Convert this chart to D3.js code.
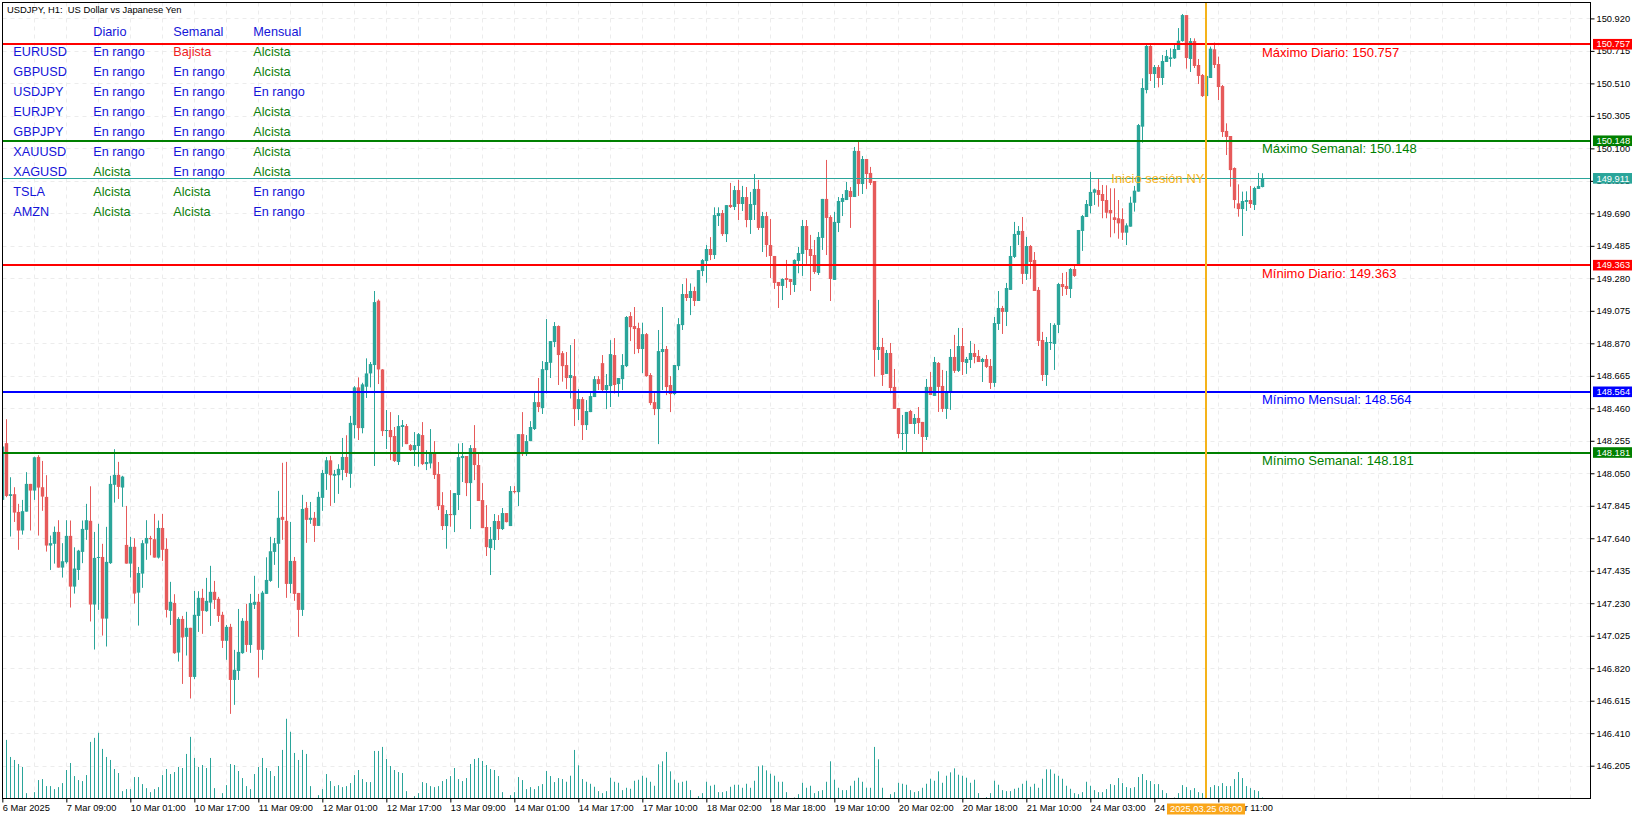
<!DOCTYPE html>
<html>
<head>
<meta charset="utf-8">
<title>USDJPY H1</title>
<script src="https://cdn.jsdelivr.net/npm/d3@7"></script>
<style>
  html, body { margin: 0; padding: 0; background: #fff; }
  svg { display: block; font-family: "Liberation Sans", Arial, sans-serif; }
</style>
</head>
<body>
<svg id="chart" width="1643" height="819"></svg>
<script>
// Candles, bar 0 = 6 Mar 2025 17:00, one bar per hour
var highs = [
148.240,148.391,148.025,147.962,147.857,147.882,148.057,147.983,148.155,148.164,
148.128,148.038,147.657,147.714,147.754,147.609,147.754,147.752,147.583,147.567,
147.752,147.857,147.968,147.680,147.731,147.605,147.712,148.034,148.202,148.122,
148.034,147.844,147.649,147.640,147.459,147.628,147.754,147.655,147.794,147.752,
147.794,147.640,147.365,147.287,147.142,147.150,147.176,147.075,147.308,147.306,
147.321,147.390,147.466,147.371,147.270,147.176,147.093,147.100,146.936,147.194,
147.136,147.226,147.289,147.403,147.289,147.308,147.520,147.649,147.642,147.939,
148.116,148.122,147.743,147.522,147.295,147.914,147.869,147.869,147.806,147.933,
148.071,148.153,148.160,148.071,148.107,148.273,148.290,148.412,148.600,148.655,
148.621,148.775,148.752,149.200,149.147,148.707,148.449,148.436,148.342,148.417,
148.386,148.361,148.234,148.310,148.304,148.373,148.196,148.329,148.253,148.121,
147.931,147.818,147.944,147.925,148.238,148.241,148.159,148.228,148.354,148.184,
147.988,147.849,147.711,147.793,147.786,147.831,147.799,147.969,147.969,148.297,
148.436,148.291,148.379,148.556,148.651,148.758,149.023,148.884,149.004,148.983,
148.821,148.815,148.859,148.897,148.581,148.531,148.512,148.556,148.663,148.663,
148.796,148.676,148.890,148.903,148.651,148.802,149.042,149.067,149.099,149.000,
149.000,148.935,148.682,148.556,148.954,149.099,148.853,148.663,148.733,149.029,
149.244,149.280,149.248,149.227,149.332,149.402,149.490,149.540,149.728,149.728,
149.711,149.742,149.882,149.863,149.901,149.863,149.856,149.825,149.938,149.901,
149.699,149.699,149.654,149.421,149.257,149.280,149.396,149.276,149.400,149.478,
149.648,149.648,149.554,149.522,149.572,149.781,150.027,149.678,149.699,149.793,
149.812,149.888,149.856,150.109,150.147,150.052,150.033,149.983,149.894,149.144,
148.904,148.828,148.872,148.708,148.462,148.418,148.437,148.450,148.424,148.468,
148.374,148.645,148.689,148.784,148.752,148.702,148.696,148.834,148.923,148.967,
148.967,148.784,148.885,148.866,148.828,148.778,148.796,148.771,149.036,149.200,
149.106,149.251,149.484,149.636,149.610,149.667,149.541,149.490,149.446,149.225,
148.942,148.910,148.998,148.996,149.251,149.314,149.320,149.345,149.358,149.585,
149.680,149.774,149.951,149.846,149.911,149.869,149.867,149.848,149.848,149.774,
149.722,149.627,149.795,149.863,150.254,150.542,150.752,150.758,150.626,150.626,
150.689,150.721,150.731,150.758,150.859,150.948,150.941,150.796,150.794,150.664,
150.569,150.569,150.742,150.767,150.679,150.500,150.258,150.178,149.980,149.873,
149.827,149.829,149.863,149.858,149.945,149.943
];
var lows = [
147.567,147.899,147.651,147.743,147.567,147.663,147.808,147.689,147.882,147.657,
147.813,147.556,147.440,147.480,147.455,147.392,147.480,147.203,147.291,147.377,
147.483,147.630,147.115,146.938,147.188,147.026,146.957,147.478,147.865,147.888,
147.838,147.480,147.392,147.228,147.089,147.327,147.504,147.533,147.518,147.512,
147.497,147.140,147.093,146.911,146.862,146.721,146.900,146.629,146.751,147.049,
147.037,147.176,147.087,147.194,147.112,146.948,146.873,146.532,146.589,146.746,
146.911,146.923,146.917,147.194,146.761,146.873,147.289,147.365,147.472,147.327,
147.630,147.264,147.293,147.245,147.018,147.150,147.611,147.731,147.617,147.718,
147.813,147.945,147.844,147.863,147.920,148.006,148.027,147.958,148.270,148.260,
148.302,148.525,148.592,148.096,148.613,148.285,148.203,148.133,148.121,148.102,
148.217,148.234,148.190,148.096,148.091,148.102,148.070,148.081,148.014,147.818,
147.692,147.574,147.713,147.679,147.818,147.995,147.906,147.698,148.007,147.875,
147.704,147.528,147.408,147.566,147.629,147.692,147.740,147.717,147.923,147.843,
148.159,148.159,148.253,148.323,148.436,148.424,148.554,148.651,148.846,148.607,
148.628,148.581,148.522,148.348,148.386,148.260,148.323,148.436,148.531,148.575,
148.562,148.455,148.468,148.554,148.533,148.575,148.720,148.884,148.802,148.808,
148.682,148.659,148.480,148.417,148.234,148.575,148.543,148.436,148.543,148.701,
148.954,149.137,149.048,149.105,149.137,149.294,149.252,149.395,149.402,149.610,
149.547,149.509,149.724,149.711,149.648,149.705,149.602,149.560,149.648,149.585,
149.446,149.415,149.282,149.213,149.093,149.143,149.219,149.175,149.194,149.312,
149.295,149.371,149.200,149.308,149.301,149.459,149.427,149.137,149.270,149.572,
149.673,149.774,149.598,149.793,149.800,149.812,149.844,149.869,148.660,148.765,
148.601,148.677,148.555,148.456,148.271,148.197,148.184,148.361,148.298,148.298,
148.184,148.260,148.544,148.538,148.437,148.437,148.393,148.450,148.683,148.689,
148.670,148.677,148.714,148.744,148.752,148.626,148.714,148.582,148.595,148.954,
148.929,148.979,149.207,149.408,149.490,149.244,149.270,149.276,149.200,148.853,
148.632,148.601,148.828,148.702,148.935,149.169,149.175,149.156,149.289,149.364,
149.453,149.667,149.690,149.743,149.732,149.659,149.659,149.539,149.564,149.530,
149.522,149.490,149.606,149.701,149.827,150.136,150.447,150.525,150.481,150.485,
150.500,150.645,150.615,150.664,150.721,150.773,150.603,150.582,150.607,150.506,
150.424,150.430,150.544,150.607,150.405,150.172,150.058,149.858,149.722,149.669,
149.547,149.705,149.724,149.711,149.844,149.854
];
var opens = [
147.882,148.240,147.907,147.918,147.806,147.689,147.808,147.983,147.941,148.153,
147.962,147.901,147.594,147.605,147.680,147.455,147.489,147.655,147.335,147.440,
147.554,147.693,147.750,147.222,147.516,147.522,147.133,147.483,147.977,148.040,
147.960,147.598,147.480,147.586,147.297,147.417,147.607,147.642,147.634,147.518,
147.705,147.573,147.182,147.232,146.919,147.131,147.018,147.075,146.765,147.150,
147.264,147.180,147.234,147.302,147.258,147.157,146.993,147.081,146.746,146.803,
146.915,147.119,146.967,147.220,147.239,146.936,147.289,147.371,147.554,147.605,
147.775,147.750,147.352,147.497,147.295,147.188,147.832,147.756,147.769,147.718,
147.895,148.046,148.132,148.034,148.038,148.071,148.153,148.046,148.354,148.592,
148.335,148.596,148.680,148.733,149.139,148.705,148.318,148.323,148.285,148.121,
148.342,148.348,148.228,148.196,148.222,148.291,148.108,148.112,148.184,148.045,
147.849,147.717,147.793,147.786,147.913,148.146,148.159,147.988,148.209,148.102,
147.881,147.711,147.578,147.629,147.749,147.698,147.799,147.717,147.938,147.931,
148.297,148.171,148.253,148.329,148.499,148.461,148.701,148.747,148.878,148.979,
148.808,148.733,148.651,148.663,148.455,148.518,148.354,148.436,148.531,148.644,
148.745,148.575,148.600,148.796,148.613,148.644,148.726,149.042,148.979,148.966,
148.834,148.928,148.670,148.499,148.455,148.815,148.834,148.607,148.550,148.726,
148.985,149.181,149.156,149.200,149.137,149.326,149.389,149.465,149.427,149.673,
149.692,149.559,149.743,149.730,149.837,149.749,149.793,149.648,149.743,149.844,
149.598,149.673,149.490,149.421,149.257,149.232,149.282,149.276,149.238,149.390,
149.434,149.610,149.465,149.427,149.314,149.535,149.781,149.667,149.270,149.629,
149.762,149.774,149.831,149.793,150.084,149.875,150.033,149.945,149.894,148.828,
148.847,148.677,148.809,148.595,148.462,148.298,148.298,148.443,148.361,148.399,
148.374,148.279,148.595,148.538,148.746,148.601,148.456,148.563,148.784,148.696,
148.853,148.746,148.765,148.809,148.790,148.752,148.771,148.727,148.620,148.992,
149.093,149.068,149.207,149.415,149.554,149.579,149.308,149.484,149.396,149.207,
148.891,148.670,148.872,148.866,148.986,149.244,149.232,149.213,149.339,149.364,
149.579,149.667,149.736,149.820,149.837,149.812,149.774,149.711,149.665,149.659,
149.654,149.568,149.606,149.757,149.827,150.237,150.468,150.746,150.569,150.613,
150.544,150.645,150.664,150.668,150.721,150.777,150.941,150.664,150.777,150.626,
150.563,150.430,150.544,150.725,150.632,150.493,150.210,150.178,149.976,149.753,
149.717,149.762,149.774,149.743,149.844,149.856
];
var closes = [
148.219,147.907,147.918,147.802,147.689,147.811,147.983,147.941,148.151,147.960,
147.903,147.594,147.609,147.680,147.455,147.495,147.655,147.335,147.449,147.562,
147.699,147.754,147.222,147.516,147.522,147.133,147.491,147.983,148.040,147.964,
148.029,147.480,147.586,147.291,147.421,147.609,147.642,147.634,147.518,147.705,
147.567,147.188,147.239,146.915,147.131,147.014,147.075,146.765,147.157,147.264,
147.182,147.245,147.302,147.251,147.150,146.993,147.081,146.746,146.810,146.923,
147.119,146.967,147.232,147.239,146.936,147.297,147.377,147.558,147.609,147.769,
147.756,147.352,147.497,147.289,147.188,147.825,147.756,147.769,147.718,147.901,
148.052,148.132,148.038,148.046,148.078,148.153,148.052,148.368,148.592,148.335,
148.611,148.680,148.739,149.130,148.705,148.316,148.323,148.278,148.127,148.348,
148.354,148.234,148.196,148.228,148.297,148.108,148.121,148.184,148.039,147.843,
147.717,147.793,147.786,147.925,148.152,148.159,147.988,148.209,148.102,147.875,
147.704,147.584,147.635,147.749,147.698,147.799,147.742,147.938,147.931,148.297,
148.171,148.253,148.342,148.499,148.468,148.707,148.752,148.884,148.979,148.796,
148.726,148.651,148.670,148.455,148.518,148.354,148.443,148.537,148.644,148.613,
148.575,148.607,148.802,148.607,148.651,148.733,149.036,148.972,148.960,148.834,
148.928,148.663,148.493,148.455,148.821,148.834,148.594,148.550,148.733,148.991,
149.181,149.156,149.200,149.137,149.332,149.395,149.465,149.427,149.679,149.692,
149.559,149.742,149.730,149.837,149.749,149.793,149.648,149.749,149.844,149.598,
149.673,149.490,149.421,149.251,149.232,149.276,149.270,149.257,149.396,149.440,
149.610,149.459,149.421,149.320,149.541,149.781,149.661,149.276,149.636,149.768,
149.787,149.837,149.793,150.084,149.875,150.033,149.938,149.882,148.828,148.847,
148.670,148.809,148.588,148.456,148.298,148.304,148.437,148.361,148.399,148.367,
148.279,148.595,148.544,148.752,148.595,148.456,148.569,148.784,148.696,148.853,
148.752,148.771,148.809,148.784,148.752,148.771,148.721,148.620,148.998,149.093,
149.068,149.219,149.421,149.560,149.579,149.308,149.484,149.383,149.200,148.885,
148.670,148.878,148.878,148.986,149.244,149.225,149.213,149.339,149.295,149.585,
149.673,149.749,149.825,149.841,149.806,149.768,149.694,149.690,149.648,149.627,
149.568,149.614,149.757,149.833,150.247,150.481,150.746,150.569,150.613,150.544,
150.651,150.683,150.674,150.727,150.779,150.941,150.670,150.777,150.620,150.557,
150.430,150.557,150.729,150.626,150.487,150.203,150.172,149.963,149.774,149.717,
149.768,149.774,149.749,149.850,149.863,149.911
];
// Tick volume per bar, in arbitrary units
var volumes = [
60,175,124,115,103,94,16,2,19,55,58,37,37,28,34,46,85,106,67,55,
52,70,169,181,196,148,124,115,88,76,22,28,28,64,64,43,31,19,28,34,
70,88,73,79,94,91,133,184,121,94,100,91,121,31,0,16,40,103,100,82,
61,37,28,73,94,121,91,82,67,97,145,238,199,136,115,145,133,37,0,10,
28,73,52,37,40,34,37,46,70,85,58,49,49,142,142,154,118,97,85,79,
76,22,0,7,16,49,46,37,34,37,52,58,67,91,58,52,61,103,118,121,
112,100,88,85,67,19,0,10,19,64,55,28,34,28,37,43,82,67,49,61,
58,50,68,145,99,58,50,44,35,22,16,22,62,50,47,25,32,29,53,56,
68,62,50,38,102,111,139,81,56,47,50,53,25,0,7,16,50,38,41,19,
19,22,35,41,41,32,44,32,53,96,99,84,74,68,50,50,19,0,3,13,
47,32,38,16,22,25,50,111,56,32,25,25,38,53,62,50,32,32,154,117,
32,0,13,19,47,44,41,25,19,22,32,44,59,53,81,47,68,78,90,71,
68,62,47,56,16,0,4,16,53,41,25,22,22,29,32,44,53,35,44,32,
59,87,87,74,68,59,38,29,16,13,19,50,38,25,19,19,28,43,40,61,
46,34,31,34,64,73,55,52,43,43,25,16,0,3,16,40,34,25,31,19,
16,40,34,40,37,46,37,37,58,79,61,37,31,25,22,3
];

var priceTicks = [150.920,150.715,150.510,150.305,150.100,149.895,149.690,149.485,149.280,149.075,148.870,148.665,
  148.460,148.255,148.050,147.845,147.640,147.435,147.230,147.025,146.820,146.615,146.410,146.205];
var timeBars = [0,16,32,48,64,80,96,112,128,144,160,176,192,208,224,240,256,272,288,304];
var timeLabels = ["6 Mar 2025","7 Mar 09:00","10 Mar 01:00","10 Mar 17:00","11 Mar 09:00","12 Mar 01:00","12 Mar 17:00",
  "13 Mar 09:00","14 Mar 01:00","14 Mar 17:00","17 Mar 10:00","18 Mar 02:00","18 Mar 18:00","19 Mar 10:00",
  "20 Mar 02:00","20 Mar 18:00","21 Mar 10:00","24 Mar 03:00","24 Mar 19:00","25 Mar 11:00"];

// Horizontal levels
var levelPrices = [150.757,150.148,149.911,149.363,148.564,148.181];
var levelNames = ["Máximo Diario: 150.757","Máximo Semanal: 150.148","","Mínimo Diario: 149.363","Mínimo Mensual: 148.564","Mínimo Semanal: 148.181"];
var levelColors = ["#ff0000","#008000","#2aa59a","#ff0000","#0000ff","#008000"];

// Table in the upper left corner
var tableHeaders = ["Diario","Semanal","Mensual"];
var tableSymbols = ["EURUSD","GBPUSD","USDJPY","EURJPY","GBPJPY","XAUUSD","XAGUSD","TSLA","AMZN"];
var tableDiario = ["En rango","En rango","En rango","En rango","En rango","En rango","Alcista","Alcista","Alcista"];
var tableSemanal = ["Bajista","En rango","En rango","En rango","En rango","En rango","En rango","Alcista","Alcista"];
var tableMensual = ["Alcista","Alcista","En rango","Alcista","Alcista","Alcista","Alcista","En rango","En rango"];

var crossBar = 301;
var crossLabel = "2025.03.25 08:00";

var UP = "#2aa59a", DOWN = "#e65a5a", CROSS = "#f5b31a";
var plotLeft = 2.5, plotRight = 1590.5, plotTop = 2.5, plotBottom = 798.5;

var svg = d3.select("#chart");
var x = d3.scaleLinear().domain([0, 315]).range([2.33, 1262.33]);
var y = d3.scaleLinear().domain([150.920, 146.205]).range([18.4, 765.7]);
var yVol = d3.scaleLinear().domain([0, 300]).range([plotBottom, plotBottom - 100.5]);

// Snap a bar's centre to a pixel so the 1px lines stay sharp
function cx(i) { return Math.floor(x(i)) + 0.5; }

// Dashed grid, every 8 bars and at each price tick
var gridBars = d3.range(8, 400, 8).filter(d => x(d) < plotRight);
var grid = svg.append("g").attr("stroke", "#ececec").attr("stroke-dasharray", "4,4").attr("fill", "none");
grid.selectAll("line.v").data(gridBars).join("line").attr("class", "v")
  .attr("x1", d => cx(d)).attr("x2", d => cx(d)).attr("y1", plotTop).attr("y2", plotBottom);
grid.selectAll("line.h").data(priceTicks).join("line").attr("class", "h")
  .attr("x1", plotLeft).attr("x2", plotRight).attr("y1", d => Math.round(y(d)) + 0.5).attr("y2", d => Math.round(y(d)) + 0.5);

// Volume bars
svg.append("g").selectAll("line").data(volumes).join("line")
  .attr("x1", (d, i) => cx(i)).attr("x2", (d, i) => cx(i))
  .attr("y1", plotBottom).attr("y2", d => yVol(d))
  .attr("stroke", UP).attr("stroke-width", 1);

// Candles
var candles = svg.append("g").selectAll("g").data(highs).join("g");
candles.append("line")
  .attr("x1", (d, i) => cx(i)).attr("x2", (d, i) => cx(i))
  .attr("y1", d => y(d)).attr("y2", (d, i) => y(lows[i]))
  .attr("stroke", (d, i) => closes[i] >= opens[i] ? UP : DOWN);
candles.append("rect")
  .attr("x", (d, i) => cx(i) - 1.7).attr("width", 3.4)
  .attr("y", (d, i) => y(Math.max(opens[i], closes[i])))
  .attr("height", (d, i) => Math.max(1, Math.abs(y(opens[i]) - y(closes[i]))))
  .attr("fill", (d, i) => closes[i] >= opens[i] ? UP : DOWN);

// Cover whatever falls left of the frame
svg.append("rect").attr("x", 0).attr("y", 0).attr("width", plotLeft).attr("height", 819).attr("fill", "#fff");

// Axes
var axisY = svg.append("g").attr("transform", `translate(${plotRight},0)`)
  .call(d3.axisRight(y).tickValues(priceTicks).tickFormat(d3.format(".3f")).tickSize(4).tickPadding(2));
var axisX = svg.append("g").attr("transform", `translate(0,${plotBottom})`)
  .call(d3.axisBottom(x).tickValues(timeBars).tickFormat((d, i) => timeLabels[i]).tickSize(4).tickPadding(2));
axisY.select(".domain").remove();
axisX.select(".domain").remove();
axisY.selectAll("text").attr("font-size", 9.3).attr("fill", "#000");
axisX.selectAll("text").attr("font-size", 9.3).attr("fill", "#000").attr("text-anchor", "start");

// Levels with their price boxes and captions
var levels = svg.append("g").selectAll("g").data(levelPrices).join("g");
levels.append("line")
  .attr("x1", plotLeft).attr("x2", plotRight)
  .attr("y1", (d, i) => i == 2 ? Math.floor(y(d)) + 0.5 : Math.round(y(d)))
  .attr("y2", (d, i) => i == 2 ? Math.floor(y(d)) + 0.5 : Math.round(y(d)))
  .attr("stroke", (d, i) => levelColors[i]).attr("stroke-width", (d, i) => i == 2 ? 1 : 2);
levels.append("rect")
  .attr("x", 1593).attr("width", 39).attr("y", d => y(d) - 5.3).attr("height", 10.6)
  .attr("fill", (d, i) => levelColors[i]);
levels.append("text")
  .attr("x", 1596.5).attr("y", d => y(d) + 3.2)
  .attr("font-size", 9.3).attr("fill", "#fff").text(d => d3.format(".3f")(d));
levels.append("text")
  .attr("x", 1262).attr("y", d => y(d) + 12.6)
  .attr("font-size", 13).attr("fill", (d, i) => levelColors[i]).text((d, i) => levelNames[i]);

svg.append("text").attr("x", 1204.5).attr("y", y(149.911) + 4.5).attr("text-anchor", "end")
  .attr("font-size", 13).attr("fill", CROSS).text("Inicio sesión NY");

// Vertical session line and its time label
svg.append("line").attr("x1", x(crossBar) - 0.33).attr("x2", x(crossBar) - 0.33).attr("y1", plotTop).attr("y2", plotBottom)
  .attr("stroke", CROSS).attr("stroke-width", 2);
svg.append("rect").attr("x", 1167).attr("y", 803.5).attr("width", 78).attr("height", 11).attr("fill", "#faa61a");
svg.append("text").attr("x", 1170).attr("y", 812.3).attr("font-size", 9.3).attr("fill", "#fff").text(crossLabel);

// Chart frame
svg.append("rect").attr("x", plotLeft).attr("y", plotTop).attr("width", plotRight - plotLeft).attr("height", plotBottom - plotTop)
  .attr("fill", "none").attr("stroke", "#000");

svg.append("text").attr("x", 7).attr("y", 12.5).attr("font-size", 9.4).attr("fill", "#000")
  .attr("xml:space", "preserve").text("USDJPY, H1:  US Dollar vs Japanese Yen");

// Table
var TABLE_BLUE = "#1414d8", TABLE_GREEN = "#0c800c", TABLE_RED = "#ee1c1c";
function stateColor(s) {
  return s == "Alcista" ? TABLE_GREEN : s == "Bajista" ? TABLE_RED : TABLE_BLUE;
}
var table = svg.append("g").attr("font-size", 12.7);
table.selectAll("text.head").data(tableHeaders).join("text").attr("class", "head")
  .attr("x", (d, i) => 93.3 + i * 80).attr("y", 36).attr("fill", TABLE_BLUE).text(d => d);
tableSymbols.forEach((s, r) => {
  var rowY = 56 + r * 20;
  table.append("text").attr("x", 13.3).attr("y", rowY).attr("fill", TABLE_BLUE).text(s);
  [tableDiario, tableSemanal, tableMensual].forEach((col, c) => {
    table.append("text").attr("x", 93.3 + c * 80).attr("y", rowY).attr("fill", stateColor(col[r])).text(col[r]);
  });
});
</script>
</body>
</html>
